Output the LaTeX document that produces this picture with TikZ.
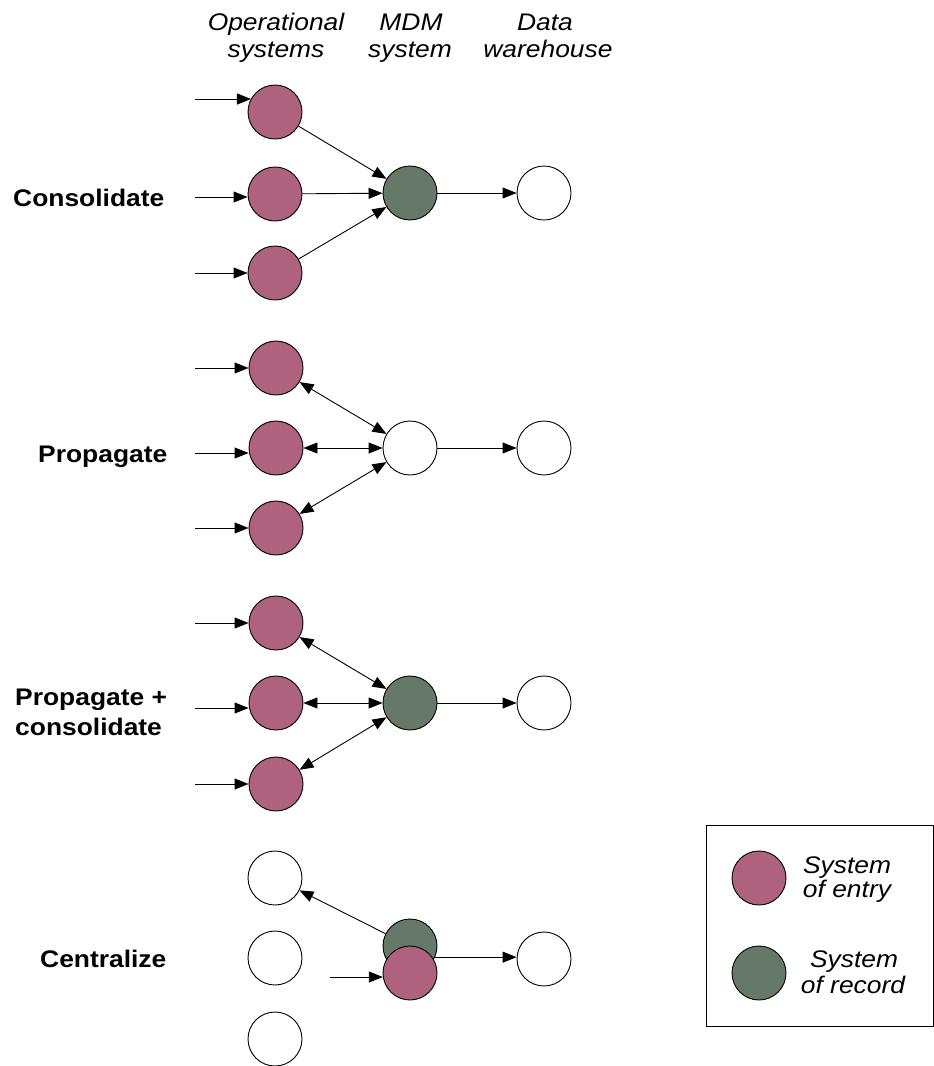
\documentclass[tikz,border=0pt]{standalone}
\usepackage{fontspec}
\newfontfamily\labfont[FakeStretch=1.1]{Liberation Sans}
\usetikzlibrary{arrows.meta}
\definecolor{entry}{HTML}{AE627E}
\definecolor{record}{HTML}{667867}
\tikzset{
  sys/.style={circle,draw=black,line width=0.9pt,minimum size=54pt,inner sep=0pt},
  soe/.style={sys,fill=entry},
  sor/.style={sys,fill=record},
  plain/.style={sys,fill=white},
  conn/.style={line width=0.9pt,-{Triangle[length=14pt,width=11pt]}},
  bconn/.style={line width=0.9pt,{Triangle[length=14pt,width=11pt]}-{Triangle[length=14pt,width=11pt]}},
  hdr/.style={inner sep=0pt,anchor=base,font=\labfont\fontsize{24}{28}\selectfont\itshape},
  rowlab/.style={inner sep=0pt,anchor=base west,font=\labfont\fontsize{24}{28}\selectfont\bfseries},
}
\begin{document}
\begin{tikzpicture}[x=1pt,y=-1pt]
\useasboundingbox (0,0) rectangle (934,1066);

% headers
\node[hdr] (h1a) at (276,30) {Operational};
\node[hdr] (h1b) at (276,57) {systems};
\node[hdr] (h2a) at (411,30) {MDM};
\node[hdr] (h2b) at (410,57) {system};
\node[hdr] (h3a) at (545,30) {Data};
\node[hdr] (h3b) at (548,57) {warehouse};

% row labels
\node[rowlab] (l1) at (13,206) {Consolidate};
\node[rowlab] (l2) at (38,462) {Propagate};
\node[rowlab] (l3a) at (15,705) {Propagate +};
\node[rowlab] (l3b) at (15,735) {consolidate};
\node[rowlab] (l4) at (40,967) {Centralize};

% ---- Consolidate
\node[soe] (c11) at (275,112) {};
\node[soe] (c12) at (275,194) {};
\node[soe] (c13) at (275,273) {};
\node[sor] (m1) at (410,193) {};
\node[plain] (d1) at (544,193) {};
\coordinate (a11) at (195,99);
\coordinate (a12) at (195,197);
\coordinate (a13) at (195,273);
\draw[conn] (a11) -- (a11 -| c11.151);
\draw[conn] (a12) -- (a12 -| c12.west);
\draw[conn] (a13) -- (a13 -| c13.west);
\draw[conn] (c11) -- (m1);
\draw[conn] (c12) -- (m1);
\draw[conn] (c13) -- (m1);
\draw[conn] (m1) -- (d1);

% ---- Propagate
\node[soe] (c21) at (276,368) {};
\node[soe] (c22) at (276,448) {};
\node[soe] (c23) at (276,528) {};
\node[plain] (m2) at (410,448) {};
\node[plain] (d2) at (544,448) {};
\coordinate (a21) at (195,368);
\coordinate (a22) at (195,453);
\coordinate (a23) at (195,528);
\draw[conn] (a21) -- (a21 -| c21.west);
\draw[conn] (a22) -- (a22 -| c22.west);
\draw[conn] (a23) -- (a23 -| c23.west);
\draw[bconn] (c21) -- (m2);
\draw[bconn] (c22) -- (m2);
\draw[bconn] (c23) -- (m2);
\draw[conn] (m2) -- (d2);

% ---- Propagate + consolidate
\node[soe] (c31) at (276,623) {};
\node[soe] (c32) at (276,703) {};
\node[soe] (c33) at (276,784) {};
\node[sor] (m3) at (410,703) {};
\node[plain] (d3) at (544,703) {};
\coordinate (a31) at (195,623);
\coordinate (a32) at (195,708);
\coordinate (a33) at (195,784);
\draw[conn] (a31) -- (a31 -| c31.west);
\draw[conn] (a32) -- (a32 -| c32.west);
\draw[conn] (a33) -- (a33 -| c33.west);
\draw[bconn] (c31) -- (m3);
\draw[bconn] (c32) -- (m3);
\draw[bconn] (c33) -- (m3);
\draw[conn] (m3) -- (d3);

% ---- Centralize
\node[plain] (w1) at (275,878) {};
\node[plain] (w2) at (275,958) {};
\node[plain] (w3) at (275,1039) {};
\node[sor] (g4) at (410,946) {};
\draw[conn] (g4) -- (w1);
\node[soe] (p4) at (410,973) {};
\node[plain] (d4) at (544,959) {};
\coordinate (a4) at (330,977);
\draw[conn] (a4) -- (a4 -| p4.188);
\draw[conn] (g4.-24) -- (g4.-24 -| d4.west);

% ---- Legend
\draw[line width=1pt] (706,825) rectangle (933,1026);
\node[soe] (lp) at (759,878) {};
\node[sor] (lg) at (759,973) {};
\node[hdr] (t1a) at (847,873) {System};
\node[hdr] (t1b) at (847,897) {of entry};
\node[hdr] (t2a) at (854,967) {System};
\node[hdr] (t2b) at (853,993) {of record};
\end{tikzpicture}
\end{document}
